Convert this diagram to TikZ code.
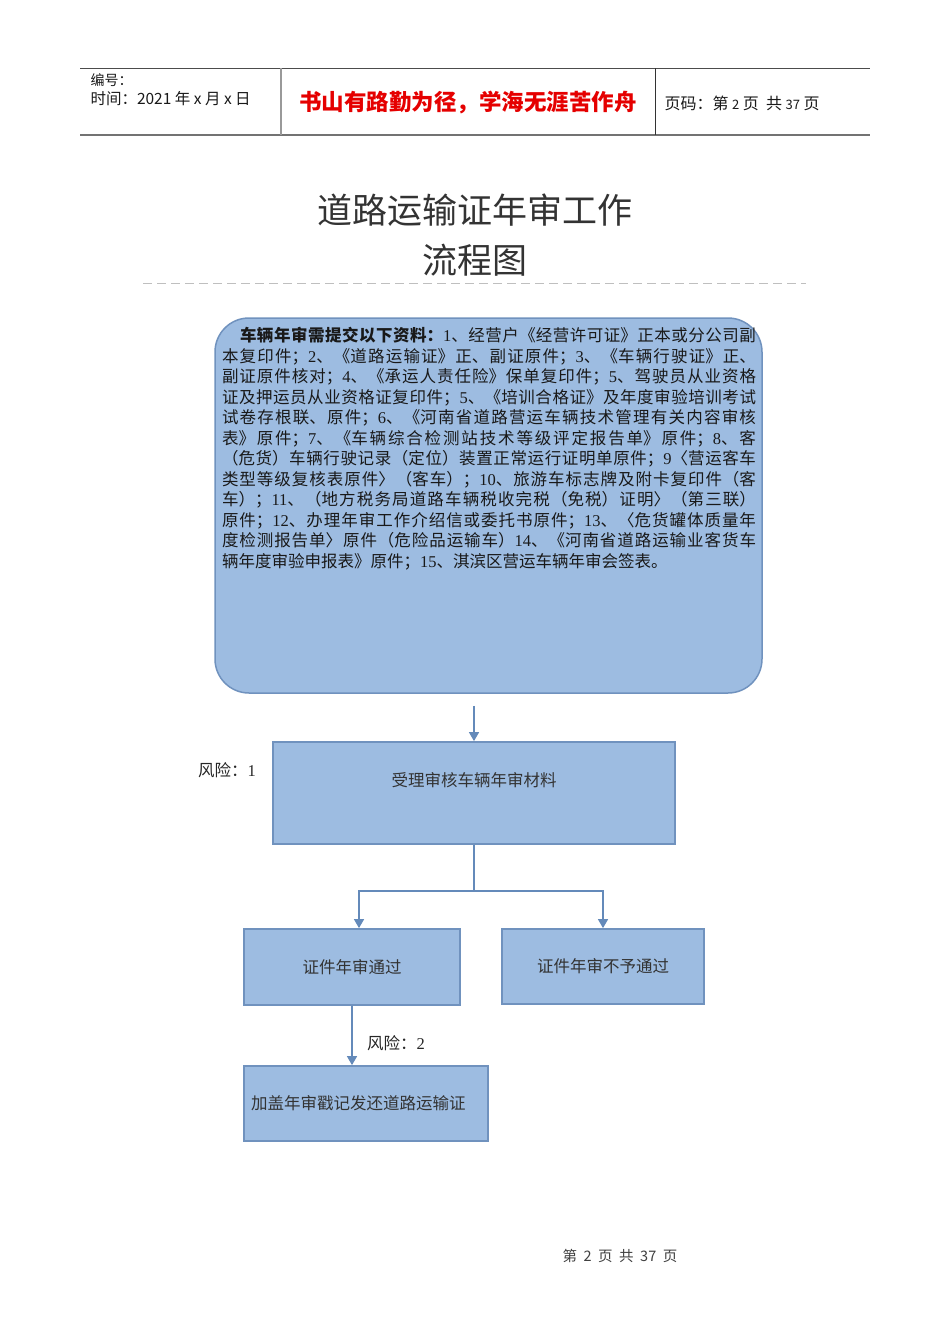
\documentclass[tikz,border=0pt]{standalone}
\usepackage{fontspec}
\setmainfont{Liberation Serif}
\newfontfamily\cjk{Noto Sans CJK SC}
\usetikzlibrary{arrows.meta}
\XeTeXlinebreaklocale "zh"
\XeTeXlinebreakskip=0pt plus 2pt
\definecolor{boxfill}{RGB}{157,188,225}
\definecolor{boxline}{RGB}{112,146,190}
\definecolor{flowline}{RGB}{100,138,186}
\newcommand\latn[1]{{\rmfamily#1}}

\begin{document}
\begin{tikzpicture}[x=1pt,y=-1pt,
    box/.style={draw=boxline,line width=1.8pt,fill=boxfill,inner sep=0pt,text=black!80,
      font=\cjk\fontsize{16.5}{20}\selectfont},
    flow/.style={draw=flowline,line width=1.5pt,-{Triangle[width=10pt,length=9pt]}},
    risk/.style={font=\cjk\fontsize{16.5}{20}\selectfont,text=black!85},
    head/.style={anchor=west,font=\cjk\fontsize{15}{18}\selectfont,text=black!90}]
        \fill[white] (0,0) rectangle (950,1344);
        \useasboundingbox (0,0) rectangle (950,1344);
        \draw[black!70,line width=1pt] (80,68) -- (870,68);
        \draw[black!55,line width=2pt] (80,135) -- (870,135);
        \draw[black!40,line width=1.2pt] (281,68) -- (281,135);
        \draw[black!80,line width=1pt] (655,68) -- (655,135);
        \node[head,font=\cjk\fontsize{14}{17}\selectfont] (code) at (87,80) {编号：};
        \node[head,font=\cjk\fontsize{15.5}{18}\selectfont] (date) at (87,99) {时间：2021 年 x 月 x 日};
        \node[font=\cjk\bfseries\fontsize{22.5}{26}\selectfont,text=red!90!black] (motto) at (468,103) {书山有路勤为径，学海无涯苦作舟};
        \node[head,font=\cjk\fontsize{16}{18}\selectfont] (pageno) at (661,103) {页码：第 {\fontsize{13}{14}\selectfont 2} 页\ \ 共 {\fontsize{13}{14}\selectfont 37} 页};

        \node[font=\cjk\fontsize{35}{40}\selectfont,text=black!80] (title) at (475,210) {道路运输证年审工作};
        \node[font=\cjk\fontsize{35}{40}\selectfont,text=black!80] (title2) at (475,260) {流程图};
        \draw[black!25,line width=1pt,dash pattern=on 9pt off 5pt] (143,283) -- (806,283);

        \node[box,rounded corners=34pt,line width=1.5pt,minimum width=547pt,minimum height=375pt] (materials) at (488.5,505.5) {};
        \node[anchor=north,text width=534pt,align=justify,inner sep=0pt,text=black!90,
          font=\cjk\fontsize{16.5}{20.5}\selectfont] (list) at (489,327) {%
\hspace*{18pt}\textbf{车辆年审需提交以下资料：}\latn{1}、经营户《经营许可证》正本或分公司副\linebreak
本复印件；\latn{2}、《道路运输证》正、副证原件；\latn{3}、《车辆行驶证》正、\linebreak
副证原件核对；\latn{4}、《承运人责任险》保单复印件；\latn{5}、驾驶员从业资格\linebreak
证及押运员从业资格证复印件；\latn{5}、《培训合格证》及年度审验培训考试\linebreak
试卷存根联、原件；\latn{6}、《河南省道路营运车辆技术管理有关内容审核\linebreak
表》原件；\latn{7}、《车辆综合检测站技术等级评定报告单》原件；\latn{8}、客\linebreak
（危货）车辆行驶记录（定位）装置正常运行证明单原件；\latn{9}〈营运客车\linebreak
类型等级复核表原件〉（客车）；\latn{10}、旅游车标志牌及附卡复印件（客\linebreak
车）；\latn{11}、（地方税务局道路车辆税收完税（免税）证明〉（第三联）\linebreak
原件；\latn{12}、办理年审工作介绍信或委托书原件；\latn{13}、〈危货罐体质量年\linebreak
度检测报告单〉原件（危险品运输车）\latn{14}、《河南省道路运输业客货车\linebreak
辆年度审验申报表》原件；\latn{15}、淇滨区营运车辆年审会签表。};

        \node[box,minimum width=402pt,minimum height=102pt] (accept) at (474,793) {};
        \node[box,draw=none,fill=none] (acceptText) at (474,780) {受理审核车辆年审材料};
        \node[risk] (risk1) at (227,770) {风险：\latn{1}};
        \node[box,minimum width=216pt,minimum height=76pt] (pass) at (352,967) {证件年审通过};
        \node[box,minimum width=202pt,minimum height=75pt] (fail) at (603,966.5) {证件年审不予通过};
        \node[box,minimum width=244pt,minimum height=75pt,text width=230pt,align=left,inner xsep=7pt] (stamp) at (366,1103.5) {加盖年审戳记发还道路运输证};
        \node[risk] (risk2) at (396,1043) {风险：\latn{2}};
        \coordinate (split) at (474,891);

        \draw[flow] ([yshift=-12pt]accept.north |- materials.south) -- (accept.north);
        \draw[flow,-] (accept.south) -- (split);
        \draw[flow] (split) -| ([xshift=7pt]pass.north);
        \draw[flow] (split) -| (fail.north);
        \draw[flow] (pass.south) -- (pass.south |- stamp.north);

        \node[font=\cjk\fontsize{14.5}{16}\selectfont,text=black!75] (footer) at (620,1256) {第\ \ 2\ \ 页\ \ 共\ \ 37\ \ 页};
    \end{tikzpicture}
\end{document}
